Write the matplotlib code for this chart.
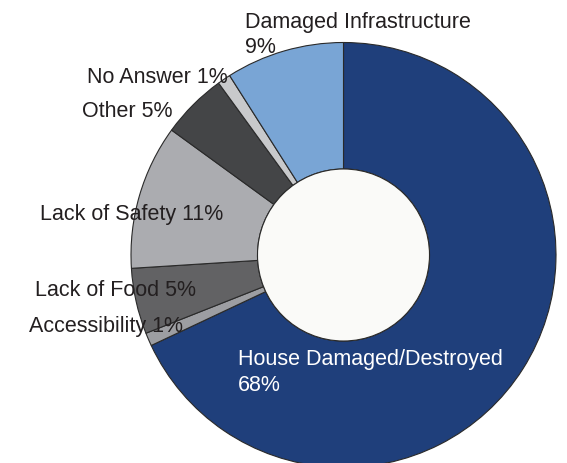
import numpy as np
import matplotlib
matplotlib.use('Agg')
import matplotlib.pyplot as plt
from matplotlib.patches import Circle

# Gruende (im Uhrzeigersinn ab 12 Uhr)
labels = ['House Damaged/Destroyed', 'Accessibility', 'Lack of Food',
          'Lack of Safety', 'Other', 'No Answer', 'Damaged Infrastructure']
shares = [68, 1, 5, 11, 5, 1, 9]
colors = ['#1f3f7b', '#9d9ea2', '#626264', '#abacb0', '#444547', '#c8c9cb', '#79a5d5']

W, H = 567, 463
plt.rcParams['font.family'] = ['Liberation Sans', 'DejaVu Sans']

fig = plt.figure(figsize=(W / 100, H / 100), dpi=100)
ax = fig.add_axes([0, 0, 1, 1])

cx, cy = 343.5, H - 255.0   # Mittelpunkt (Pixel, y nach oben)
R, r = 212.5, 86.0           # Aussen- und Innenradius

ax.pie(shares, colors=colors, startangle=90, counterclock=False,
       radius=R, center=(cx, cy),
       wedgeprops=dict(width=R - r, edgecolor='#2a2a2a', linewidth=0.8))
ax.add_patch(Circle((cx, cy), r, facecolor='#fafaf8', edgecolor='#2a2a2a',
                    linewidth=0.8, zorder=3))

ax.set_xlim(0, W)
ax.set_ylim(0, H)
ax.set_aspect('equal')
ax.axis('off')

# Beschriftungen: (Text, linke Kante, Grundlinie von oben, Farbe)
txt = '#231f20'
fs = 15.5
beschr = [
    ('Damaged Infrastructure\n%d%%' % shares[6], 245, 27.7, txt),
    ('%s %d%%' % (labels[5], shares[5]), 87, 82.7, txt),
    ('%s %d%%' % (labels[4], shares[4]), 82.5, 117.3, txt),
    ('%s %d%%' % (labels[3], shares[3]), 40, 220, txt),
    ('%s %d%%' % (labels[2], shares[2]), 35, 295.5, txt),
    ('%s %d%%' % (labels[1], shares[1]), 29.3, 332, txt),
    ('House Damaged/Destroyed\n%d%%' % shares[0], 238, 365, 'white'),
]
for s, x, y, c in beschr:
    zeilen = s.split('\n')
    for i, z in enumerate(zeilen):
        ax.text(x, H - y - i * 25.6, z, fontsize=fs, color=c,
                ha='left', va='baseline', zorder=5)

fig.savefig('out.png', dpi=100)
